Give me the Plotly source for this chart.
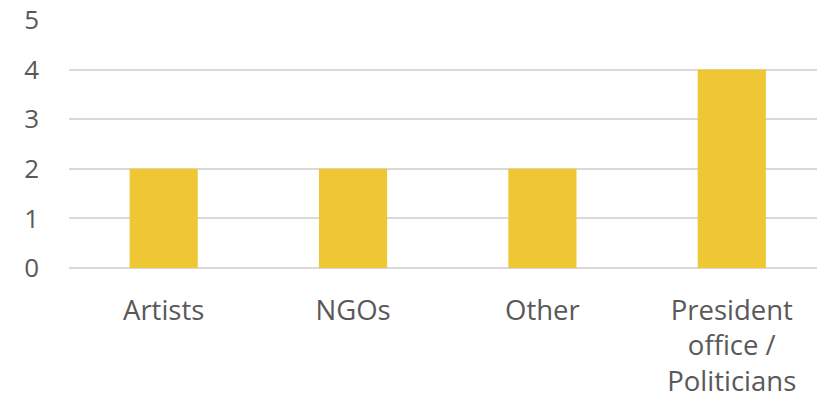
import plotly.graph_objects as go

# Data
categories = ["Artists", "NGOs", "Other", "President<br>office /<br>Politicians"]
counts = [2, 2, 2, 4]
y_ticks = [0, 1, 2, 3, 4, 5]

BAR_COLOR = "#EFC734"
TEXT_COLOR = "#595959"
GRID_COLOR = "#D9D9D9"
FONT = "Open Sans, Lato, sans-serif"

fig = go.Figure(
    go.Bar(
        x=categories,
        y=counts,
        marker=dict(color=BAR_COLOR, line=dict(width=0)),
        hoverinfo="skip",
    )
)

fig.update_layout(
    width=817,
    height=394,
    margin=dict(l=69, r=0, t=20, b=126),
    paper_bgcolor="white",
    plot_bgcolor="white",
    bargap=0.64,
    showlegend=False,
    font=dict(family=FONT, size=26, color=TEXT_COLOR),
)

fig.update_xaxes(
    range=[-0.5, 3.45],
    automargin=False,
    showgrid=False,
    showline=False,
    zeroline=False,
    ticks="",
    ticklabelstandoff=23,
    tickfont=dict(family=FONT, size=27.5, color=TEXT_COLOR),
)

fig.update_yaxes(
    range=[0, 5],
    tickvals=y_ticks,
    automargin=False,
    showgrid=True,
    gridcolor=GRID_COLOR,
    gridwidth=1.5,
    zeroline=True,
    zerolinecolor=GRID_COLOR,
    zerolinewidth=1.5,
    showline=False,
    ticks="",
    ticklabelstandoff=29,
    tickfont=dict(family=FONT, size=26, color=TEXT_COLOR),
)

fig.write_html("out.html")
